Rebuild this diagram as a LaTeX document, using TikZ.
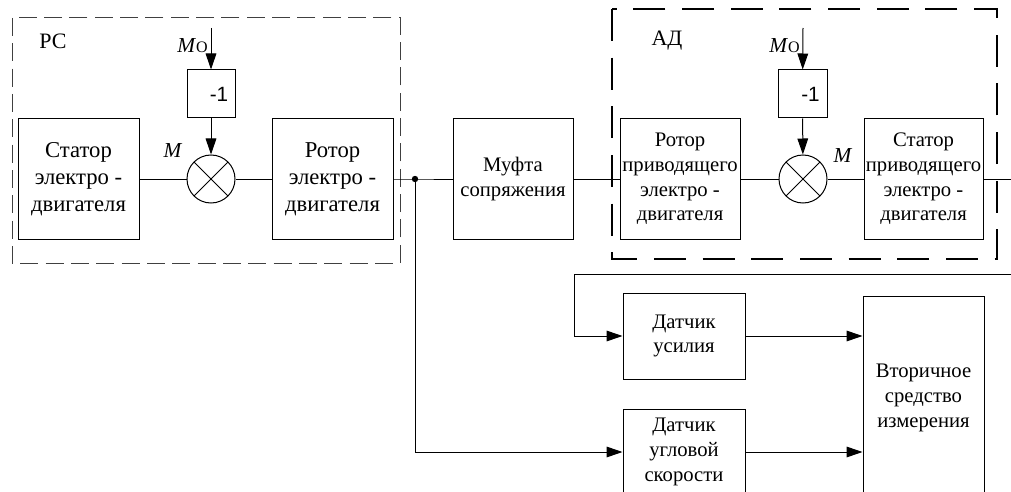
\documentclass[tikz,border=0pt]{standalone}
\usepackage{fontspec}
\setmainfont{Liberation Serif}
\newfontfamily\arialf{Liberation Sans}
\usetikzlibrary{arrows.meta}
\tikzset{
  blk/.style={draw, line width=0.75pt, align=center, inner sep=0pt, font=\fontsize{15.5}{18.5}\selectfont},
  blkbig/.style={blk, font=\fontsize{17}{20.3}\selectfont},
  sumnode/.style={draw, circle, line width=0.75pt, minimum size=48*0.75pt, inner sep=0pt,
    path picture={\draw[line width=0.75pt] (path picture bounding box.north west) -- (path picture bounding box.south east)
      (path picture bounding box.north east) -- (path picture bounding box.south west);}},
  conn/.style={line width=0.75pt},
  arr/.style={conn, -{Triangle[length=12pt, width=8pt]}},
  lbl/.style={inner sep=0pt, font=\fontsize{16}{18}\selectfont},
  negbox/.style={blk, minimum height=48*0.75pt, font=\arialf\fontsize{15.5}{17}\selectfont},
  dashPC/.style={draw=black!75, line width=0.75pt, dash pattern=on 13.5pt off 5.5pt},
  dashAD/.style={draw=black, line width=2.2pt, dash pattern=on 24pt off 12.5pt},
}
\begin{document}
\begin{tikzpicture}[x=0.75pt, y=-0.75pt]
\useasboundingbox (0,0) rectangle (1011,492);
\clip (0,0) rectangle (1011,492);
% dashed groups
\draw[dashPC] (12,18) rectangle (400,263);
\draw[dashAD] (612,9) rectangle (997,259);
\node[lbl, font=\fontsize{16.5}{18}\selectfont] (pc) at (53,41) {РС};
\node[lbl, font=\fontsize{16.5}{18}\selectfont] (ad) at (667,41) {АД};
% left group
\node[blkbig, minimum width=121*0.75pt, minimum height=121*0.75pt] (stL) at (78.5,179) {Статор\\электро -\\двигателя};
\node[sumnode] (sumL) at (211,179) {};
\node[negbox, minimum width=48*0.75pt] (negL) at (211,94) {\hspace*{12pt}-1};
\node[blkbig, minimum width=121*0.75pt, minimum height=121*0.75pt] (rotL) at (332.5,179) {Ротор\\электро -\\двигателя};
\coordinate (moL) at (211,28);
\node[lbl, anchor=base east] (moLt) at (208,53) {\textit{M}{\fontsize{12}{12}\selectfont O}};
\node[lbl, anchor=base] (mL) at (173,157) {\textit{M}};
% coupling
\coordinate (J) at (415,179);
\node[blk, minimum width=120*0.75pt, minimum height=121*0.75pt] (muf) at (513,179) {Муфта\\сопряжения};
% right group
\node[blk, minimum width=120*0.75pt, minimum height=121*0.75pt] (rotR) at (680,179) {Ротор\\приводящего\\электро -\\двигателя};
\node[sumnode] (sumR) at (803,179) {};
\node[negbox, minimum width=49*0.75pt] (negR) at (802.5,94) {\hspace*{12pt}-1};
\node[blk, minimum width=119*0.75pt, minimum height=121*0.75pt] (stR) at (923.5,179) {Статор\\приводящего\\электро -\\двигателя};
\coordinate (moR) at (803,28);
\node[lbl, anchor=base east] (moRt) at (800,53) {\textit{M}{\fontsize{12}{12}\selectfont O}};
\node[lbl, anchor=base] (mR) at (843,162) {\textit{M}};
\coordinate (outR) at (1015,179);
% sensors
\node[blk, minimum width=122*0.75pt, minimum height=86*0.75pt] (ds1) at (684,336) {Датчик\\усилия};
\node[blk, minimum width=122*0.75pt, minimum height=86*0.75pt] (ds2) at (684,452) {Датчик\\угловой\\скорости};
\node[blk, minimum width=121*0.75pt, minimum height=204*0.75pt] (vt) at (923.5,398) {Вторичное\\средство\\измерения};
\coordinate (fbIn) at (1015,274);
\coordinate (fbC) at (574,274);
% connectors
\draw[arr] (moL) -- (negL);
\draw[arr] (negL) -- (sumL);
\draw[conn] (stL) -- (sumL);
\draw[conn] (sumL) -- (rotL);
\draw[conn] (rotL) -- (J) -- (muf);
\fill (J) circle[radius=3.2*0.75pt];
\draw[conn] (muf) -- (rotR);
\draw[conn] (rotR) -- (sumR);
\draw[conn] (sumR) -- (stR);
\draw[arr] (moR) -- (negR);
\draw[arr] (negR) -- (sumR);
\draw[conn] (stR) -- (outR);
\draw[arr] (fbIn) -- (fbC) |- (ds1.west);
\draw[arr] (J) |- (ds2.west);
\draw[arr] (ds1.east) -- (vt.west |- ds1.east);
\draw[arr] (ds2.east) -- (vt.west |- ds2.east);
\end{tikzpicture}
\end{document}
